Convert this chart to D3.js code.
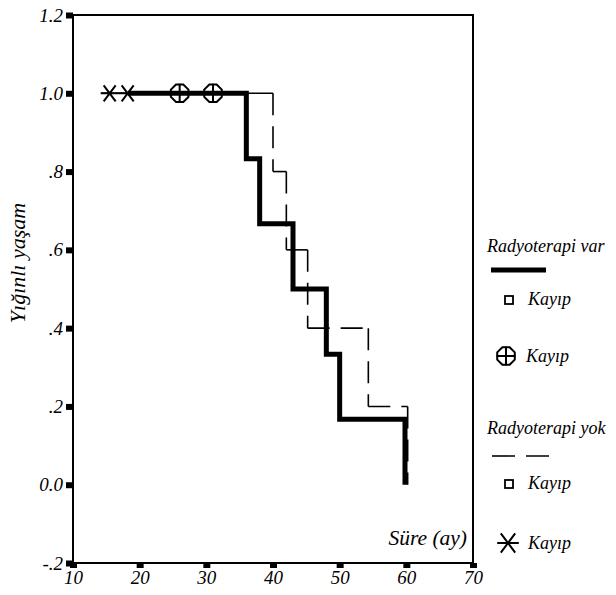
<!DOCTYPE html>
<html><head><meta charset="utf-8">
<script src="https://cdn.jsdelivr.net/npm/d3@7"></script>
<style>
html,body{margin:0;padding:0;background:#fff;}
</style></head>
<body>
<svg id="c" width="616" height="595"></svg>
<script>
// ---- data ----
const xTicks = [10, 20, 30, 40, 50, 60, 70];
const yTicks = [-0.2, 0.0, 0.2, 0.4, 0.6, 0.8, 1.0, 1.2];
const yTickLabels = ["-.2", "0.0", ".2", ".4", ".6", ".8", "1.0", "1.2"];
// Radyoterapi var (thick solid)
const varStart = 18.3;
const varEventTimes = [36, 38, 43, 48, 50, 59.8];
const varSurvival = [0.833, 0.667, 0.5, 0.333, 0.167, 0.0];
const varCensorTimes = [26, 31];
// Radyoterapi yok (thin dashed)
const yokStart = 14.3;
const yokEventTimes = [40, 42, 45.2, 54.3, 60.2];
const yokSurvival = [0.8, 0.6, 0.4, 0.2, 0.0];
const yokCensorTimes = [15.5, 18.2];
const legendLabels = ["Radyoterapi var", "Kayıp", "Kayıp", "Radyoterapi yok", "Kayıp", "Kayıp"];

const FONT = '"Liberation Serif"';
function fontize(sel, size) {
  return sel.attr("fill", "#000")
    .style("font-family", FONT).style("font-style", "italic").style("font-size", size + "px");
}

const svg = d3.select("#c");
const x = d3.scaleLinear().domain([10, 70]).range([73, 473]);
const y = d3.scaleLinear().domain([-0.2, 1.2]).range([563, 15]);

// frame
svg.append("rect").attr("x", x(10)).attr("y", y(1.2))
  .attr("width", x(70) - x(10)).attr("height", y(-0.2) - y(1.2))
  .attr("fill", "none").attr("stroke", "#000").attr("stroke-width", 2);

// axes
const yAxis = svg.append("g").attr("transform", `translate(${x(10)},0)`)
  .call(d3.axisLeft(y).tickValues(yTicks).tickSize(7).tickPadding(3)
    .tickFormat((d, i) => yTickLabels[i]));
const xAxis = svg.append("g").attr("transform", `translate(0,${y(-0.2)})`)
  .call(d3.axisBottom(x).tickValues(xTicks).tickSize(5).tickPadding(3)
    .tickFormat(d3.format("d")));
[yAxis, xAxis].forEach(g => {
  g.attr("font-family", null).attr("font-size", null);
  g.select(".domain").remove();
  fontize(g.selectAll("text"), 19);
});
yAxis.selectAll(".tick line").attr("stroke-width", 6);
xAxis.selectAll(".tick line").attr("stroke-width", 7);

// step segments
function steps(start, times, surv) {
  const segs = [];
  let t0 = start, s0 = 1.0;
  times.forEach((t, i) => {
    segs.push([t0, s0, t, s0]);
    segs.push([t, s0, t, surv[i]]);
    t0 = t; s0 = surv[i];
  });
  return segs;
}
const yokSegs = steps(yokStart, yokEventTimes, yokSurvival);
svg.append("g").selectAll("line").data(yokSegs).join("line")
  .attr("x1", d => x(d[0])).attr("y1", d => y(d[1]))
  .attr("x2", d => x(d[2])).attr("y2", d => y(d[3]))
  .attr("stroke", "#000").attr("stroke-width", 1.6)
  .attr("stroke-dasharray", (d, i) => i === 0 ? null : "22,11");

const varPts = [[varStart, 1.0]];
let s = 1.0;
varEventTimes.forEach((t, i) => { varPts.push([t, s]); varPts.push([t, varSurvival[i]]); s = varSurvival[i]; });
svg.append("path").datum(varPts)
  .attr("d", d3.line().x(d => x(d[0])).y(d => y(d[1])))
  .attr("fill", "none").attr("stroke", "#000").attr("stroke-width", 5)
  .attr("stroke-linejoin", "miter").attr("stroke-linecap", "butt");

// markers
function asterisk(g, cx, cy, k) {
  k = k || 1;
  g.append("path").attr("d",
    `M${cx - 9 * k},${cy}L${cx + 9 * k},${cy}M${cx - 6 * k},${cy - 8 * k}L${cx + 6 * k},${cy + 8 * k}M${cx - 6 * k},${cy + 8 * k}L${cx + 6 * k},${cy - 8 * k}`)
    .attr("stroke", "#000").attr("stroke-width", 2).attr("fill", "none");
}
function circlePlus(g, cx, cy) {
  const r = 9.5, pts = [];
  for (let k = 0; k < 8; k++) {
    const a = Math.PI / 8 + k * Math.PI / 4;
    pts.push([cx + r * Math.cos(a), cy + r * Math.sin(a)]);
  }
  g.append("path").attr("d", "M" + pts.join("L") + "Z")
    .attr("stroke", "#000").attr("stroke-width", 2).attr("fill", "none");
  g.append("path").attr("d", `M${cx - r},${cy}L${cx + r},${cy}M${cx},${cy - r}L${cx},${cy + r}`)
    .attr("stroke", "#000").attr("stroke-width", 2);
}
function square(g, cx, cy) {
  g.append("rect").attr("x", cx - 4).attr("y", cy - 4).attr("width", 8).attr("height", 8)
    .attr("fill", "#fff").attr("stroke", "#000").attr("stroke-width", 1.8);
}
const mk = svg.append("g");
yokCensorTimes.forEach(t => asterisk(mk, x(t), y(1.0)));
varCensorTimes.forEach(t => circlePlus(mk, x(t), y(1.0)));

// axis titles
fontize(svg.append("text").attr("transform", "translate(25,263) rotate(-90)")
  .attr("text-anchor", "middle"), 22).text("Yığınlı yaşam");
fontize(svg.append("text").attr("x", 467).attr("y", 545).attr("text-anchor", "end"), 21.5)
  .text("Süre (ay)");

// legend
const lg = svg.append("g");
fontize(lg.append("text").attr("x", 487).attr("y", 252), 18).text(legendLabels[0]);
lg.append("line").attr("x1", 491).attr("x2", 546).attr("y1", 270).attr("y2", 270)
  .attr("stroke", "#000").attr("stroke-width", 5);
square(lg, 509, 300);
fontize(lg.append("text").attr("x", 528).attr("y", 305), 18).text(legendLabels[1]);
circlePlus(lg, 506, 356);
fontize(lg.append("text").attr("x", 526).attr("y", 362), 18).text(legendLabels[2]);
fontize(lg.append("text").attr("x", 487).attr("y", 434), 18).text(legendLabels[3]);
lg.append("line").attr("x1", 492).attr("x2", 549).attr("y1", 456).attr("y2", 456)
  .attr("stroke", "#000").attr("stroke-width", 1.6).attr("stroke-dasharray", "23,11");
square(lg, 509, 484);
fontize(lg.append("text").attr("x", 528).attr("y", 489), 18).text(legendLabels[4]);
asterisk(lg, 508, 543, 1.2);
fontize(lg.append("text").attr("x", 528).attr("y", 549), 18).text(legendLabels[5]);
</script>
</body></html>
